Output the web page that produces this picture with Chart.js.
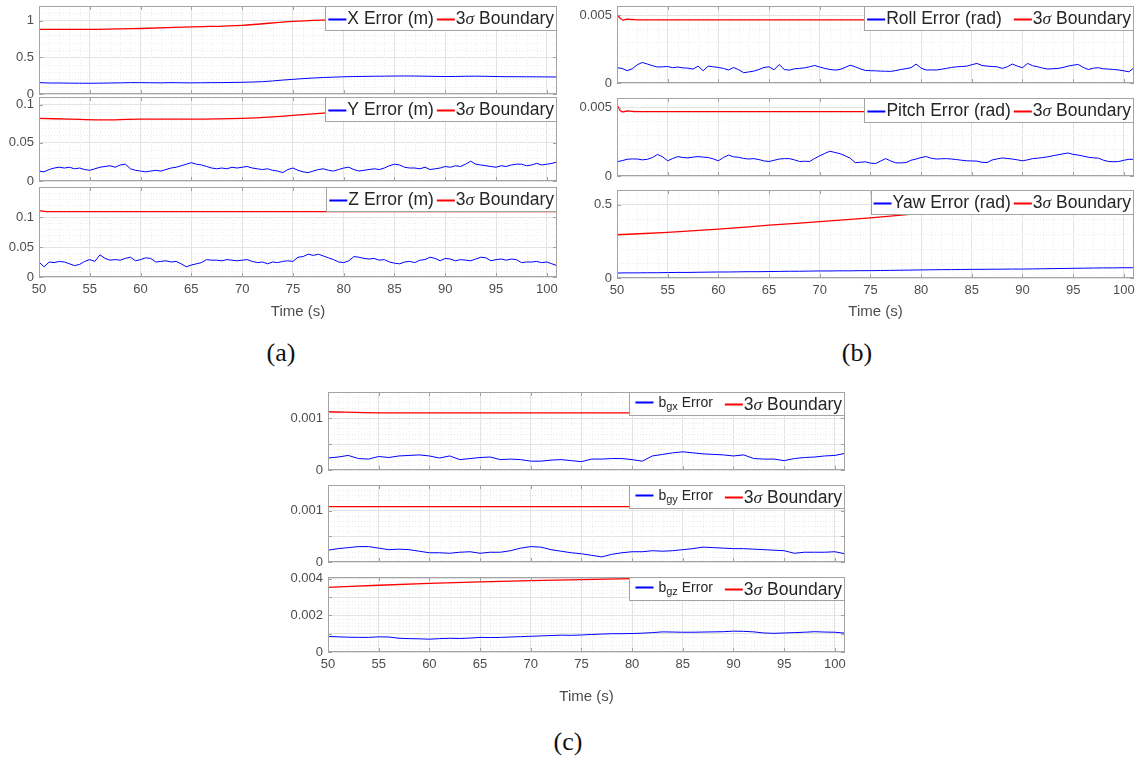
<!DOCTYPE html>
<html>
<head>
<meta charset="utf-8">
<script src="https://cdn.jsdelivr.net/npm/chart.js@4/dist/chart.umd.min.js"></script>
<style>
  body { margin: 0; background: #fff; width: 1145px; height: 761px; position: relative; overflow: hidden; }
  canvas { position: absolute; }
  .tag { position: absolute; font-family: "Liberation Serif", "Times New Roman", serif; font-size: 26px; color: #111; transform: translate(-50%, -50%); }
</style>
</head>
<body>
<div class="tag" style="left:281px;top:353px">(a)</div>
<div class="tag" style="left:857px;top:353px">(b)</div>
<div class="tag" style="left:568px;top:742px">(c)</div>
<script>
// sampling of the logged errors
var T0 = 50;
var STEP_FINE = 0.5;
var STEP_MID = 1;
var X_TICKS = [50, 55, 60, 65, 70, 75, 80, 85, 90, 95, 100];

// (a) position errors
var xErr = [0.155, 0.15, 0.15, 0.148, 0.147, 0.146, 0.148, 0.15, 0.152, 0.155, 0.155, 0.153, 0.152, 0.155, 0.153, 0.152, 0.153, 0.155, 0.155, 0.158, 0.16, 0.163, 0.168, 0.178, 0.19, 0.2, 0.21, 0.218, 0.225, 0.23, 0.235, 0.238, 0.24, 0.242, 0.243, 0.245, 0.246, 0.245, 0.243, 0.24, 0.238, 0.239, 0.242, 0.243, 0.241, 0.238, 0.236, 0.236, 0.235, 0.234, 0.233, 0.232];
var xBoundT = [50, 55, 60, 65, 70, 75, 80, 85, 90, 95, 101];
var xBound = [0.88, 0.88, 0.893, 0.915, 0.937, 0.99, 1.02, 1.06, 1.1, 1.15, 1.2];

var yErr = [
  0.013, 0.012, 0.015, 0.017, 0.018, 0.017, 0.018, 0.016, 0.017, 0.015,
  0.014, 0.016, 0.018, 0.019, 0.020, 0.018, 0.021, 0.022, 0.016, 0.014,
  0.013, 0.012, 0.013, 0.014, 0.013, 0.015, 0.017, 0.018, 0.020, 0.022,
  0.024, 0.022, 0.021, 0.019, 0.017, 0.016, 0.017, 0.016, 0.018, 0.017,
  0.018, 0.019, 0.017, 0.016, 0.015, 0.016, 0.014, 0.013, 0.011, 0.015,
  0.017, 0.014, 0.012, 0.011, 0.013, 0.015, 0.016, 0.014, 0.013, 0.015,
  0.017, 0.018, 0.015, 0.013, 0.014, 0.015, 0.016, 0.015, 0.017, 0.020,
  0.022, 0.021, 0.018, 0.017, 0.017, 0.016, 0.018, 0.015, 0.016, 0.017,
  0.019, 0.018, 0.020, 0.019, 0.022, 0.026, 0.022, 0.021, 0.020, 0.019,
  0.018, 0.020, 0.019, 0.021, 0.022, 0.022, 0.020, 0.021, 0.023, 0.021,
  0.022, 0.023, 0.025];
var yBoundT = [50, 53, 56, 60, 65, 70, 73, 76, 78, 85, 90, 95, 101];
var yBound = [0.082, 0.081, 0.080, 0.081, 0.081, 0.082, 0.084, 0.087, 0.089, 0.095, 0.099, 0.102, 0.106];

var zErr = [
  0.025, 0.017, 0.025, 0.024, 0.026, 0.025, 0.022, 0.019, 0.021, 0.026,
  0.029, 0.026, 0.037, 0.031, 0.028, 0.029, 0.028, 0.031, 0.033, 0.027,
  0.029, 0.032, 0.031, 0.025, 0.026, 0.027, 0.025, 0.026, 0.022, 0.017,
  0.020, 0.022, 0.024, 0.029, 0.028, 0.028, 0.027, 0.029, 0.028, 0.027,
  0.028, 0.029, 0.026, 0.024, 0.025, 0.022, 0.025, 0.024, 0.026, 0.027,
  0.026, 0.033, 0.034, 0.038, 0.036, 0.038, 0.035, 0.032, 0.029, 0.025,
  0.024, 0.027, 0.034, 0.033, 0.031, 0.030, 0.031, 0.028, 0.029, 0.025,
  0.023, 0.022, 0.025, 0.026, 0.024, 0.028, 0.029, 0.033, 0.031, 0.027,
  0.031, 0.030, 0.027, 0.029, 0.028, 0.027, 0.030, 0.033, 0.032, 0.027,
  0.029, 0.030, 0.028, 0.030, 0.029, 0.024, 0.025, 0.025, 0.026, 0.024,
  0.025, 0.022, 0.019];
var zBoundT = [50, 51, 101];
var zBound = [0.1105, 0.109, 0.109];

// (b) attitude errors
var rollErr = [
  0.00113, 0.00108, 0.00091, 0.00105, 0.00135, 0.00152, 0.00140, 0.00128, 0.00118, 0.00120,
  0.00122, 0.00113, 0.00118, 0.00112, 0.00110, 0.00103, 0.00125, 0.00091, 0.00125, 0.00120,
  0.00115, 0.00108, 0.00096, 0.00115, 0.00098, 0.00076, 0.00082, 0.00088, 0.00100, 0.00115,
  0.00120, 0.00098, 0.00137, 0.00100, 0.00095, 0.00105, 0.00108, 0.00112, 0.00120, 0.00130,
  0.00118, 0.00108, 0.00100, 0.00096, 0.00100, 0.00115, 0.00132, 0.00120, 0.00105, 0.00093,
  0.00091, 0.00090, 0.00088, 0.00087, 0.00086, 0.00092, 0.00100, 0.00106, 0.00113, 0.00140,
  0.00110, 0.00096, 0.00097, 0.00096, 0.00102, 0.00108, 0.00115, 0.00120, 0.00122, 0.00125,
  0.00135, 0.00145, 0.00130, 0.00125, 0.00122, 0.00120, 0.00108, 0.00120, 0.00140, 0.00125,
  0.00113, 0.00145, 0.00128, 0.00120, 0.00110, 0.00103, 0.00106, 0.00108, 0.00115, 0.00125,
  0.00132, 0.00137, 0.00115, 0.00100, 0.00110, 0.00113, 0.00105, 0.00103, 0.00100, 0.00096,
  0.00090, 0.00083, 0.00113];
var rollBoundT = [50, 50.3, 50.6, 51, 51.5, 52, 101];
var rollBound = [0.0051, 0.0048, 0.00466, 0.00472, 0.0047, 0.00468, 0.00468];

var pitchErr = [
  0.00104, 0.00112, 0.00122, 0.00125, 0.00124, 0.00118, 0.00122, 0.00135, 0.00158, 0.00140,
  0.00111, 0.00128, 0.00142, 0.00135, 0.00132, 0.00138, 0.00142, 0.00138, 0.00135, 0.00125,
  0.00111, 0.00135, 0.00153, 0.00140, 0.00137, 0.00128, 0.00124, 0.00127, 0.00120, 0.00110,
  0.00106, 0.00115, 0.00124, 0.00127, 0.00127, 0.00118, 0.00106, 0.00108, 0.00106, 0.00128,
  0.00148, 0.00165, 0.00181, 0.00172, 0.00163, 0.00148, 0.00130, 0.00098, 0.00100, 0.00104,
  0.00094, 0.00091, 0.00109, 0.00127, 0.00110, 0.00096, 0.00096, 0.00098, 0.00115, 0.00124,
  0.00135, 0.00142, 0.00130, 0.00124, 0.00126, 0.00127, 0.00124, 0.00120, 0.00115, 0.00111,
  0.00110, 0.00109, 0.00100, 0.00098, 0.00117, 0.00125, 0.00132, 0.00128, 0.00124, 0.00118,
  0.00111, 0.00118, 0.00127, 0.00130, 0.00135, 0.00140, 0.00148, 0.00155, 0.00162, 0.00168,
  0.00158, 0.00153, 0.00145, 0.00137, 0.00133, 0.00130, 0.00115, 0.00106, 0.00104, 0.00106,
  0.00115, 0.00122, 0.00122];
var pitchBoundT = [50, 50.3, 50.6, 51, 51.5, 52, 101];
var pitchBound = [0.0052, 0.0048, 0.00468, 0.00475, 0.00472, 0.0047, 0.0047];

var yawErr = [0.034, 0.035, 0.035, 0.036, 0.036, 0.037, 0.038, 0.038, 0.039, 0.04, 0.041, 0.041, 0.042, 0.043, 0.043, 0.044, 0.045, 0.046, 0.046, 0.047, 0.048, 0.048, 0.049, 0.049, 0.05, 0.05, 0.051, 0.052, 0.053, 0.054, 0.055, 0.056, 0.057, 0.057, 0.058, 0.059, 0.059, 0.06, 0.06, 0.061, 0.061, 0.062, 0.063, 0.064, 0.065, 0.066, 0.067, 0.068, 0.069, 0.069, 0.07, 0.07];
var yawBoundT = [50, 55, 60, 65, 70, 75, 80, 85, 90, 95, 101];
var yawBound = [0.295, 0.311, 0.333, 0.36, 0.384, 0.41, 0.44, 0.47, 0.5, 0.53, 0.565];

// (c) gyro bias errors
var bgxErr = [0.00023, 0.00025, 0.00028, 0.00022, 0.00021, 0.00026, 0.00024, 0.00027, 0.00028, 0.00029, 0.00027, 0.00023, 0.00027, 0.0002, 0.00022, 0.00024, 0.00025, 0.0002, 0.00021, 0.0002, 0.00017, 0.00017, 0.00019, 0.0002, 0.00018, 0.00016, 0.00021, 0.00021, 0.00022, 0.00022, 0.0002, 0.00017, 0.00027, 0.0003, 0.00033, 0.00035, 0.00033, 0.00031, 0.0003, 0.00029, 0.00027, 0.00029, 0.00022, 0.00021, 0.00021, 0.00018, 0.00022, 0.00024, 0.00025, 0.00027, 0.00028, 0.00032];
var bgxBoundT = [50, 55, 101];
var bgxBound = [0.00112, 0.0011, 0.0011];

var bgyErr = [0.00023, 0.00026, 0.00028, 0.0003, 0.0003, 0.00027, 0.00024, 0.00025, 0.00024, 0.00021, 0.00018, 0.00018, 0.00017, 0.00019, 0.0002, 0.00017, 0.00019, 0.00019, 0.00022, 0.00027, 0.0003, 0.00029, 0.00024, 0.00021, 0.00018, 0.00016, 0.00013, 0.0001, 0.00015, 0.00018, 0.0002, 0.0002, 0.00022, 0.00021, 0.00022, 0.00024, 0.00026, 0.00029, 0.00028, 0.00027, 0.00026, 0.00026, 0.00025, 0.00024, 0.00023, 0.00022, 0.00017, 0.00019, 0.00019, 0.00019, 0.0002, 0.00016];
var bgyBoundT = [50, 101];
var bgyBound = [0.00108, 0.00108];

var bgzErr = [0.00085, 0.00083, 0.00081, 0.0008, 0.0008, 0.00083, 0.00082, 0.00075, 0.00073, 0.00072, 0.0007, 0.00073, 0.00075, 0.00074, 0.00076, 0.0008, 0.00079, 0.0008, 0.00082, 0.00084, 0.00086, 0.00088, 0.0009, 0.00092, 0.00091, 0.00093, 0.00096, 0.00098, 0.001, 0.001, 0.00101, 0.00103, 0.00106, 0.0011, 0.00109, 0.00108, 0.00108, 0.00109, 0.0011, 0.00111, 0.00114, 0.00113, 0.0011, 0.00104, 0.00102, 0.00104, 0.00106, 0.00108, 0.00111, 0.00109, 0.00108, 0.00103];
var bgzBoundT = [50, 55, 60, 65, 70, 75, 80, 85, 90, 95, 101];
var bgzBound = [0.00353, 0.00365, 0.00375, 0.00383, 0.0039, 0.00396, 0.00401, 0.00405, 0.0041, 0.00414, 0.0042];

function sampleTimes(n, step) {
  var t = [];
  for (var i = 0; i < n; i++) t.push(T0 + i * step);
  return t;
}

function toPoints(ts, vs) {
  return vs.map(function (v, i) { return { x: ts[i], y: v }; });
}

function fmt(v) {
  return String(parseFloat(v.toFixed(6)));
}

function onStep(v, step) {
  var r = v / step;
  return Math.abs(r - Math.round(r)) < 1e-6;
}

var SANS = '"Liberation Sans", Arial, sans-serif';
var TEXT = '#262626';
var AXIS_TXT = '#4d4d4d';
var FRAME = '#a3a3a3';

// dotted minor grid + box frame with inward tick marks
var framePlugin = {
  id: 'frame',
  beforeDatasetsDraw: function (chart) {
    var o = chart.options.plugins.frame;
    var ctx = chart.ctx, ca = chart.chartArea;
    var sx = chart.scales.x, sy = chart.scales.y;
    ctx.save();
    ctx.strokeStyle = '#ececec';
    ctx.lineWidth = 1;
    ctx.setLineDash([1, 2]);
    ctx.beginPath();
    for (var t = 51; t < sx.max; t += 1) {
      if (t % 5 === 0) continue;
      var px = Math.round(sx.getPixelForValue(t)) + 0.5;
      ctx.moveTo(px, ca.top); ctx.lineTo(px, ca.bottom);
    }
    for (var k = 1; k * o.minor < sy.max - 1e-12; k++) {
      var v = k * o.minor;
      if (onStep(v, o.grid)) continue;
      var py = Math.round(sy.getPixelForValue(v)) + 0.5;
      ctx.moveTo(ca.left, py); ctx.lineTo(ca.right, py);
    }
    ctx.stroke();
    ctx.restore();
  },
  afterDraw: function (chart) {
    var o = chart.options.plugins.frame;
    var ctx = chart.ctx, ca = chart.chartArea;
    var sx = chart.scales.x, sy = chart.scales.y;
    ctx.save();
    ctx.strokeStyle = FRAME;
    ctx.lineWidth = 1;
    ctx.strokeRect(ca.left + 0.5, ca.top + 0.5, ca.right - ca.left - 1, ca.bottom - ca.top - 1);
    ctx.beginPath();
    X_TICKS.forEach(function (t) {
      var px = Math.round(sx.getPixelForValue(t)) + 0.5;
      ctx.moveTo(px, ca.bottom); ctx.lineTo(px, ca.bottom - 4);
      ctx.moveTo(px, ca.top); ctx.lineTo(px, ca.top + 4);
    });
    for (var k = 0; k * o.grid <= sy.max + 1e-12; k++) {
      var py = Math.round(sy.getPixelForValue(k * o.grid)) + 0.5;
      ctx.moveTo(ca.left, py); ctx.lineTo(ca.left + 4, py);
      ctx.moveTo(ca.right, py); ctx.lineTo(ca.right - 4, py);
    }
    ctx.stroke();
    ctx.restore();
    drawLegend(chart, chart.options.plugins.boxLegend);
  }
};

function partFont(p) {
  var fam = p.serif ? '"Liberation Serif", serif' : SANS;
  return (p.italic ? 'italic ' : '') + p.size + 'px ' + fam;
}

function drawLegend(chart, lg) {
  if (!lg) return;
  var ctx = chart.ctx, ca = chart.chartArea;
  var lineLen = 18;
  ctx.save();
  var widths = lg.items.map(function (it) {
    return it.parts.reduce(function (s, p) { ctx.font = partFont(p); return s + ctx.measureText(p.t).width; }, 0);
  });
  var total = lg.padL + lg.padR;
  widths.forEach(function (w, i) { total += lineLen + (lg.items[i].textGap || 1) + w + (i ? lg.gap : 0); });
  var x0 = ca.right - total, y0 = ca.top, h = lg.height;
  ctx.fillStyle = '#fff';
  ctx.fillRect(x0, y0, total, h);
  ctx.strokeStyle = FRAME;
  ctx.lineWidth = 1;
  ctx.strokeRect(Math.round(x0) + 0.5, y0 + 0.5, Math.round(total) - 1, h - 1);
  var x = x0 + lg.padL, cy = y0 + h / 2;
  lg.items.forEach(function (it, i) {
    if (i) x += lg.gap;
    ctx.strokeStyle = it.color;
    ctx.lineWidth = 2;
    ctx.beginPath();
    ctx.moveTo(x, Math.round(cy) + 0.5 - (it.lineUp || 0));
    ctx.lineTo(x + lineLen, Math.round(cy) + 0.5 - (it.lineUp || 0));
    ctx.stroke();
    x += lineLen + (it.textGap || 1);
    ctx.fillStyle = TEXT;
    ctx.textBaseline = 'middle';
    ctx.textAlign = 'left';
    it.parts.forEach(function (p) {
      ctx.font = partFont(p);
      ctx.fillText(p.t, x, cy + 1 + (p.dy || 0));
      x += ctx.measureText(p.t).width;
    });
  });
  ctx.restore();
}

var LG_SIZE = 17.5;
function bigItem(label) {
  return { color: '#0000ff', parts: [{ t: label, size: LG_SIZE }] };
}
function boundItem(size) {
  return { color: '#ff0000', parts: [{ t: '3', size: size }, { t: 'σ', size: size, italic: true, serif: true }, { t: ' Boundary', size: size }] };
}
function biasItem(sub) {
  return { color: '#0000ff', lineUp: 2, textGap: 5, parts: [{ t: 'b', size: 14, dy: -2 }, { t: sub, size: 11, dy: 2 }, { t: ' Error', size: 14, dy: -2 }] };
}

var AXIS_W = 70, PAD_T = 10, PAD_R = 6;

function makePlot(box, cfg) {
  var showX = cfg.xh > 0;
  var xh = showX ? cfg.xh : 10;
  var w = AXIS_W + (box[2] - box[0]) + PAD_R;
  var h = PAD_T + (box[3] - box[1]) + xh;
  var cv = document.createElement('canvas');
  cv.width = w; cv.height = h;
  cv.style.left = (box[0] - AXIS_W) + 'px';
  cv.style.top = (box[1] - PAD_T) + 'px';
  cv.style.width = w + 'px';
  cv.style.height = h + 'px';
  document.body.appendChild(cv);

  var errT = sampleTimes(cfg.err.length, cfg.step);

  new Chart(cv, {
    type: 'line',
    data: {
      datasets: [
        { data: toPoints(errT, cfg.err), borderColor: '#0000ff', borderWidth: 1, pointRadius: 0, tension: 0 },
        { data: toPoints(cfg.boundT, cfg.bound), borderColor: '#ff0000', borderWidth: 1.3, pointRadius: 0, cubicInterpolationMode: 'monotone' }
      ]
    },
    options: {
      responsive: false,
      animation: false,
      devicePixelRatio: 1,
      layout: { padding: { left: 0, top: PAD_T, right: PAD_R, bottom: 0 } },
      plugins: {
        legend: { display: false },
        tooltip: { enabled: false },
        frame: { grid: cfg.ygrid, minor: cfg.yminor },
        boxLegend: cfg.legend
      },
      scales: {
        x: {
          type: 'linear', min: 50, max: 101,
          afterFit: function (s) { s.height = xh; s.paddingLeft = 0; s.paddingRight = 0; },
          grid: { color: '#e3e3e3', drawTicks: false },
          border: { display: false },
          ticks: {
            display: showX, stepSize: 5, autoSkip: false, maxRotation: 0, maxTicksLimit: 100,
            includeBounds: false,
            padding: 5, color: AXIS_TXT, font: { family: SANS, size: 13 },
            callback: function (v) { return v % 5 === 0 ? String(v) : ''; }
          },
          title: {
            display: showX, text: 'Time (s)', color: AXIS_TXT,
            font: { family: SANS, size: 15 }, padding: { top: 0, bottom: 0 }
          }
        },
        y: {
          type: 'linear', min: 0, max: cfg.ymax,
          afterFit: function (s) { s.width = AXIS_W; s.paddingTop = 0; s.paddingBottom = 0; },
          grid: { color: '#e3e3e3', drawTicks: false },
          border: { display: false },
          ticks: {
            stepSize: cfg.ygrid, autoSkip: false, maxTicksLimit: 100,
            includeBounds: false,
            padding: 5, color: AXIS_TXT, font: { family: SANS, size: 13 },
            callback: function (v) {
              if (v > cfg.ymax * 0.999) return '';
              return onStep(v, cfg.ylabel) ? fmt(v) : '';
            }
          }
        }
      }
    },
    plugins: [framePlugin]
  });
}

function lgAB(label, gap) {
  return { padL: 3, padR: 3, gap: gap || 3, height: 25, items: [bigItem(label), boundItem(LG_SIZE)] };
}
function lgC(sub) {
  return { padL: 6, padR: 3, gap: 12, height: 24, items: [biasItem(sub), boundItem(LG_SIZE)] };
}

// panel (a)
makePlot([39, 6, 557, 94], { err: xErr, step: STEP_MID, boundT: xBoundT, bound: xBound, ymax: 1.2, ygrid: 0.5, ylabel: 0.5, yminor: 0.1, xh: 0, legend: lgAB('X Error (m)') });
makePlot([39, 97, 557, 181], { err: yErr, step: STEP_FINE, boundT: yBoundT, bound: yBound, ymax: 0.11, ygrid: 0.05, ylabel: 0.05, yminor: 0.01, xh: 0, legend: lgAB('Y Error (m)') });
makePlot([39, 187, 557, 277], { err: zErr, step: STEP_FINE, boundT: zBoundT, bound: zBound, ymax: 0.15, ygrid: 0.05, ylabel: 0.05, yminor: 0.01, xh: 44, legend: lgAB('Z Error (m)') });

// panel (b)
makePlot([617, 6, 1134, 83], { err: rollErr, step: STEP_FINE, boundT: rollBoundT, bound: rollBound, ymax: 0.0057, ygrid: 0.005, ylabel: 0.005, yminor: 0.001, xh: 0, legend: lgAB('Roll Error (rad)', 12) });
makePlot([617, 98, 1134, 176], { err: pitchErr, step: STEP_FINE, boundT: pitchBoundT, bound: pitchBound, ymax: 0.0057, ygrid: 0.005, ylabel: 0.005, yminor: 0.001, xh: 0, legend: lgAB('Pitch Error (rad)') });
makePlot([617, 190, 1134, 278], { err: yawErr, step: STEP_MID, boundT: yawBoundT, bound: yawBound, ymax: 0.6, ygrid: 0.5, ylabel: 0.5, yminor: 0.1, xh: 43, legend: lgAB('Yaw Error (rad)') });

// panel (c)
makePlot([328, 392, 845, 470], { err: bgxErr, step: STEP_MID, boundT: bgxBoundT, bound: bgxBound, ymax: 0.0015, ygrid: 0.0005, ylabel: 0.001, yminor: 0.0001, xh: 0, legend: lgC('gx') });
makePlot([328, 485, 845, 562], { err: bgyErr, step: STEP_MID, boundT: bgyBoundT, bound: bgyBound, ymax: 0.0015, ygrid: 0.0005, ylabel: 0.001, yminor: 0.0001, xh: 0, legend: lgC('gy') });
makePlot([328, 577, 845, 652], { err: bgzErr, step: STEP_MID, boundT: bgzBoundT, bound: bgzBound, ymax: 0.0041, ygrid: 0.001, ylabel: 0.002, yminor: 0.0002, xh: 54, legend: lgC('gz') });
</script>
</body>
</html>
